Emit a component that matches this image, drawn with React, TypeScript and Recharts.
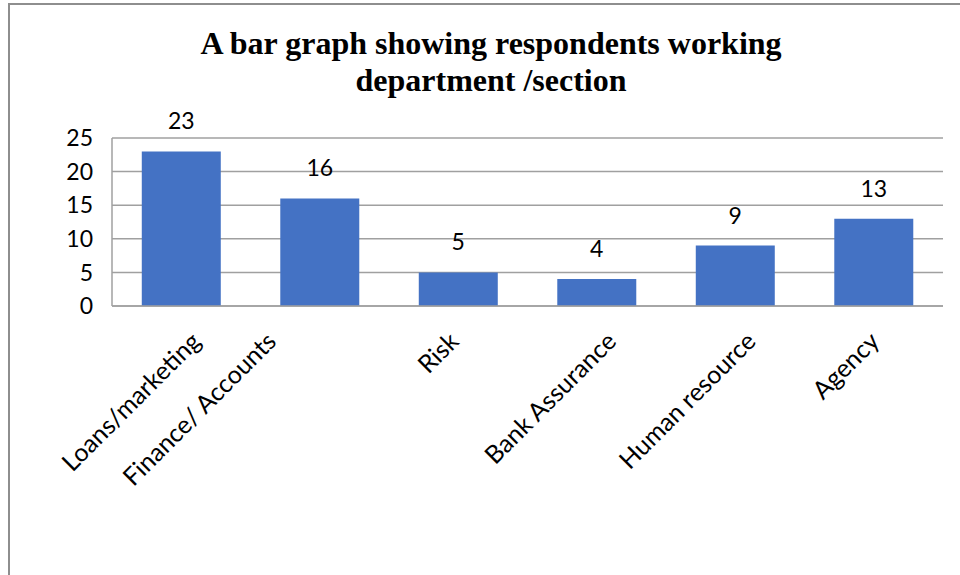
import { Bar, BarChart, CartesianGrid, LabelList, XAxis, YAxis } from 'recharts';

const departments = [
  'Loans/marketing',
  'Finance/ Accounts',
  'Risk',
  'Bank Assurance',
  'Human resource',
  'Agency',
];
const respondents = [23, 16, 5, 4, 9, 13];
const yTicks = [0, 5, 10, 15, 20, 25];

// the source labels sit a little off their ticks; keep that look
const labelNudge = [19, -44, 0, 19, 20, 5];

const data = departments.map((name, i) => ({ name, value: respondents[i] }));

const BAR_BLUE = '#4472C4';
const GRID = '#a0a0a0';
const LABEL_FONT = 'Lato, "Open Sans", sans-serif';

function CategoryTick(props: any) {
  const { x, y, payload, index } = props;
  const ax = x + 2 + (labelNudge[index] ?? 0);
  const ay = y + 29;
  return (
    <text
      x={ax}
      y={ay}
      transform={`rotate(-45, ${ax}, ${ay})`}
      textAnchor="end"
      fontSize={25}
      fontFamily={LABEL_FONT}
      fill="#000"
    >
      {payload.value}
    </text>
  );
}

export default function App() {
  return (
    <div style={{ position: 'absolute', left: 0, top: 0, width: 960, height: 575, background: '#fff', overflow: 'hidden' }}>
      <div
        style={{
          position: 'absolute',
          left: 8,
          top: 3,
          width: 1000,
          height: 700,
          borderLeft: '2px solid #8e8e8e',
          borderTop: '2px solid #8e8e8e',
        }}
      />
      <div
        style={{
          position: 'absolute',
          left: 0,
          top: 25,
          width: 982,
          textAlign: 'center',
          fontFamily: '"Liberation Serif", "Times New Roman", serif',
          fontWeight: 'bold',
          fontSize: 32,
          lineHeight: '37px',
          color: '#000',
        }}
      >
        A bar graph showing respondents working
        <br />
        department /section
      </div>
      <div style={{ position: 'absolute', left: 0, top: 0 }}>
        <BarChart
          width={960}
          height={575}
          data={data}
          margin={{ top: 138, right: 17, left: 0, bottom: 0 }}
          barCategoryGap="21.5%"
        >
          <CartesianGrid vertical={false} stroke={GRID} strokeWidth={1.5} />
          <XAxis
            dataKey="name"
            height={269}
            interval={0}
            axisLine={{ stroke: GRID, strokeWidth: 1.5 }}
            tickLine={false}
            tick={<CategoryTick />}
          />
          <YAxis
            width={112}
            domain={[0, 25]}
            ticks={yTicks}
            interval={0}
            axisLine={{ stroke: GRID, strokeWidth: 1.5 }}
            tickLine={false}
            tickMargin={13}
            tick={{ fill: '#000', fontSize: 23, fontFamily: LABEL_FONT }}
          />
          <Bar dataKey="value" fill={BAR_BLUE} isAnimationActive={false}>
            <LabelList
              dataKey="value"
              position="top"
              offset={22}
              fill="#000"
              fontSize={23}
              fontFamily={LABEL_FONT}
            />
          </Bar>
        </BarChart>
      </div>
    </div>
  );
}
